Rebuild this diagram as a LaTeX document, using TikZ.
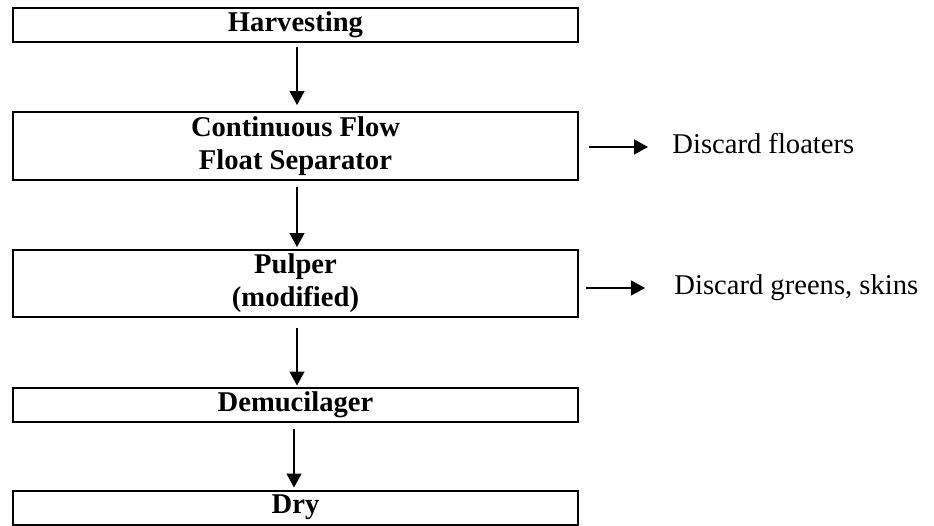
\documentclass[tikz,border=0pt]{standalone}
\usepackage{fontspec}
\setmainfont{Liberation Serif}
\usetikzlibrary{arrows.meta}
\begin{document}
\begin{tikzpicture}[x=0.5pt,y=-0.5pt,
  stage/.style={draw, line width=1pt, minimum width=282.5pt, inner sep=0pt,
    font=\fontsize{14.3}{16.5}\selectfont\bfseries, align=center},
  flow/.style={-{Triangle[length=7pt,width=7.5pt]}, line width=0.7pt},
  note/.style={inner sep=0pt, anchor=base west, font=\fontsize{14.3}{16.5}\selectfont}]
\useasboundingbox (0,0) rectangle (934,526);

% process stages
\node[stage, minimum height=17pt]   (harv) at (295.5,25)    {Harvesting};
\node[stage, minimum height=34pt]   (cont) at (295.5,146)   {Continuous Flow\\Float Separator};
\node[stage, minimum height=33.5pt] (pulp) at (295.5,283.5) {Pulper\\(modified)};
\node[stage, minimum height=17pt]   (dem)  at (295.5,404.5) {Demucilager};
\node[stage, minimum height=17pt]   (dry)  at (295.5,507.5) {Dry};

% side outputs
\node[note] (floaters) at (672,153) {Discard floaters};
\node[note] (greens)   at (674,294) {Discard greens, skins};

% main flow
\draw[flow, shorten <=2pt, shorten >=3pt]
  ([xshift=0.75pt]harv.south) -- ([xshift=0.75pt]cont.north);
\draw[flow, shorten <=3pt, shorten >=1pt]
  ([xshift=0.75pt]cont.south) -- ([xshift=0.75pt]pulp.north);
\draw[flow, shorten <=5pt, shorten >=0.5pt]
  ([xshift=0.75pt]pulp.south) -- ([xshift=0.75pt]dem.north);
\draw[flow, shorten <=3pt, shorten >=1pt]
  ([xshift=-0.75pt]dem.south) -- ([xshift=-0.75pt]dry.north);

% discards
\draw[flow, shorten <=5pt, shorten >=12pt]
  ([yshift=-0.5pt]cont.east) -- ([yshift=-0.5pt]cont.east -| floaters.west);
\draw[flow, shorten <=3.5pt, shorten >=14.5pt]
  ([yshift=-2.25pt]pulp.east) -- ([yshift=-2.25pt]pulp.east -| greens.west);
\end{tikzpicture}
\end{document}
